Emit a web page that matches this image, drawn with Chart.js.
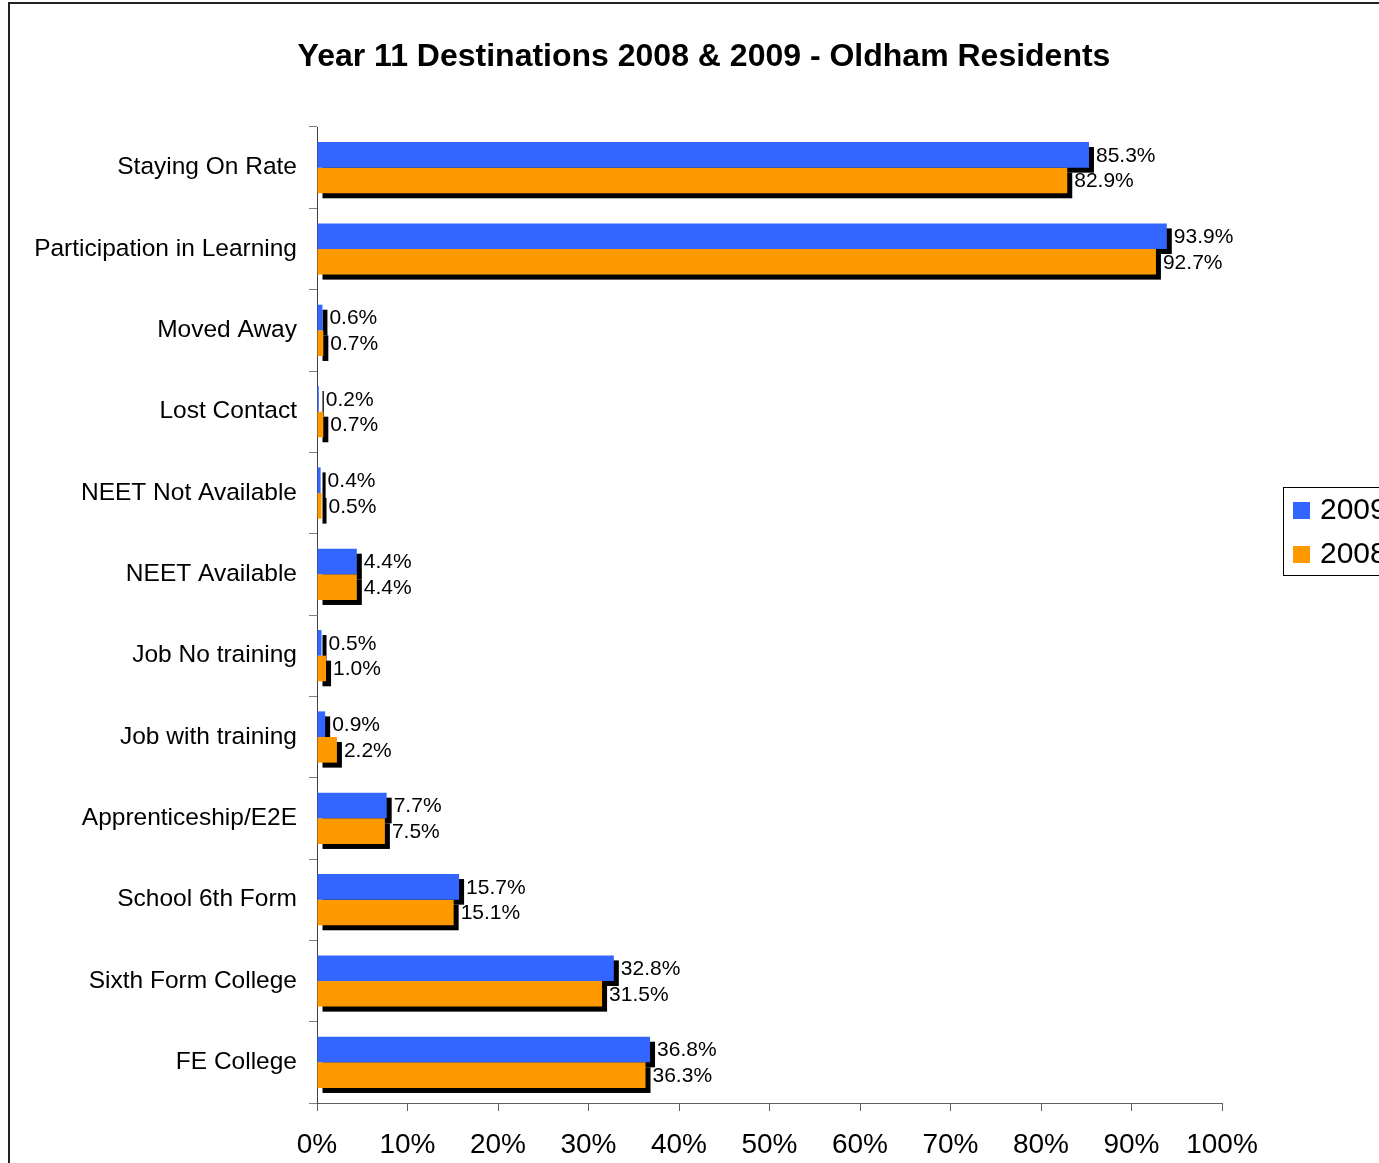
<!DOCTYPE html>
<html>
<head>
<meta charset="utf-8">
<script src="https://cdn.jsdelivr.net/npm/chart.js@4.4.1/dist/chart.umd.min.js"></script>
<style>
  html, body { margin: 0; padding: 0; background: #fff; }
  #wrap { position: relative; width: 1379px; height: 1163px; }
</style>
</head>
<body>
<div id="wrap"><canvas id="destChart" width="1379" height="1163"></canvas></div>
<script>
// Year 11 destinations, Oldham residents
var categories = ["Staying On Rate", "Participation in Learning", "Moved Away", "Lost Contact",
    "NEET Not Available", "NEET Available", "Job No training", "Job with training",
    "Apprenticeship/E2E", "School 6th Form", "Sixth Form College", "FE College"];
var values2009 = [85.3, 93.9, 0.6, 0.2, 0.4, 4.4, 0.5, 0.9, 7.7, 15.7, 32.8, 36.8];
var values2008 = [82.9, 92.7, 0.7, 0.7, 0.5, 4.4, 1.0, 2.2, 7.5, 15.1, 31.5, 36.3];
var seriesNames = ["2009", "2008"];
var xTicks = [0, 10, 20, 30, 40, 50, 60, 70, 80, 90, 100];

var FONT = "'Liberation Sans', Arial, sans-serif";
var blue = "#3366FF";
var orange = "#FF9900";

// black drop shadow behind every bar
var shadowPlugin = {
    id: 'barShadow',
    beforeDatasetsDraw: function(chart) {
        var ctx = chart.ctx;
        ctx.save();
        ctx.fillStyle = '#000';
        chart.data.datasets.forEach(function(ds, i) {
            var meta = chart.getDatasetMeta(i);
            meta.data.forEach(function(bar) {
                var p = bar.getProps(['x', 'y', 'base', 'height'], true);
                ctx.fillRect(p.base + 5, p.y - p.height / 2 + 5, p.x - p.base, p.height);
            });
        });
        ctx.restore();
    }
};

// value labels, frame, title and legend
var decorPlugin = {
    id: 'decor',
    afterDatasetsDraw: function(chart) {
        var ctx = chart.ctx;
        ctx.save();
        ctx.font = "21px " + FONT;
        ctx.fillStyle = '#000';
        ctx.textAlign = 'left';
        ctx.textBaseline = 'middle';
        chart.data.datasets.forEach(function(ds, i) {
            var meta = chart.getDatasetMeta(i);
            meta.data.forEach(function(bar, j) {
                var p = bar.getProps(['x', 'y'], true);
                ctx.fillText(ds.data[j].toFixed(1) + '%', p.x + 7, p.y + 1);
            });
        });
        ctx.restore();
    },
    afterDraw: function(chart) {
        var ctx = chart.ctx;
        ctx.save();
        // outer frame
        ctx.strokeStyle = '#222';
        ctx.lineWidth = 2;
        ctx.strokeRect(9, 3, 1420, 1220);
        // title
        ctx.fillStyle = '#000';
        ctx.font = "bold 32px " + FONT;
        ctx.textAlign = 'center';
        ctx.textBaseline = 'middle';
        ctx.fillText("Year 11 Destinations 2008 & 2009 - Oldham Residents", 704, 57);
        // legend
        ctx.strokeStyle = '#000';
        ctx.lineWidth = 1;
        ctx.strokeRect(1283.5, 487.5, 200, 88);
        var cols = [blue, orange];
        ctx.font = "30px " + FONT;
        ctx.textAlign = 'left';
        seriesNames.forEach(function(n, i) {
            var y = 502 + i * 44;
            ctx.fillStyle = cols[i];
            ctx.fillRect(1293, y, 17, 17);
            ctx.fillStyle = '#000';
            ctx.fillText(n, 1320, y + 9);
        });
        ctx.restore();
    }
};

var ctx = document.getElementById("destChart");
var destChart = new Chart(ctx, {
    type: 'bar',
    data: {
        labels: categories,
        datasets: [
            { label: seriesNames[0], data: values2009, backgroundColor: blue },
            { label: seriesNames[1], data: values2008, backgroundColor: orange }
        ]
    },
    options: {
        indexAxis: 'y',
        animation: false,
        responsive: false,
        categoryPercentage: 0.63,
        barPercentage: 1.0,
        layout: { padding: { top: 127, right: 157, left: 0, bottom: 0 } },
        plugins: {
            legend: { display: false },
            title: { display: false },
            tooltip: { enabled: false }
        },
        scales: {
            x: {
                min: 0,
                max: 100,
                afterFit: function(scale) { scale.height = 60; },
                afterBuildTicks: function(scale) {
                    scale.ticks = xTicks.map(function(v) { return { value: v }; });
                },
                ticks: {
                    callback: function(v) { return v + '%'; },
                    font: { family: FONT, size: 28 },
                    color: '#000',
                    padding: 17,
                    maxRotation: 0
                },
                grid: { drawOnChartArea: false, tickLength: 8, tickColor: '#606060' },
                border: { display: true, color: '#606060', width: 1 }
            },
            y: {
                afterFit: function(scale) { scale.width = 317; },
                ticks: {
                    font: { family: FONT, size: 24.5 },
                    color: '#000',
                    padding: 12
                },
                grid: { drawOnChartArea: false, tickLength: 8, tickColor: '#808080' },
                border: { display: true, color: '#404040', width: 1 }
            }
        }
    },
    plugins: [shadowPlugin, decorPlugin]
});
</script>
</body>
</html>
